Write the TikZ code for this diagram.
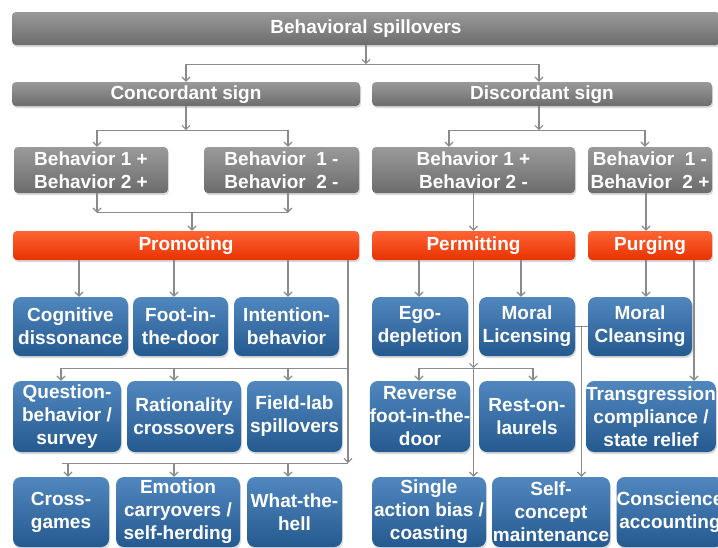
\documentclass[tikz,border=0pt]{standalone}
\usepackage{fontspec}
\setmainfont{Liberation Sans}
\usetikzlibrary{arrows.meta,shadows,calc}

\definecolor{greytop}{HTML}{9A9A9A}
\definecolor{greybot}{HTML}{6C6C6C}
\definecolor{redtop}{HTML}{FF6434}
\definecolor{redbot}{HTML}{E83200}
\definecolor{bluetop}{HTML}{5087BE}
\definecolor{bluebot}{HTML}{255A90}
\definecolor{linegrey}{HTML}{8A8A8A}

\begin{document}
\begin{tikzpicture}[x=1pt,y=-1pt,
    font=\fontsize{19}{23}\selectfont\bfseries,
    box/.style={text=white,align=center,inner xsep=0pt,inner ysep=0pt,
      drop shadow={opacity=0.3,shadow xshift=1pt,shadow yshift=-2pt}},
    oneline/.style={text height=14pt,text depth=4pt},
    greybox/.style={box,rounded corners=4pt,top color=greytop,bottom color=greybot},
    redbar/.style={box,oneline,rounded corners=4pt,top color=redtop,bottom color=redbot,minimum height=29pt},
    bluebox/.style={box,rounded corners=8pt,top color=bluetop,bottom color=bluebot},
    link/.style={draw=linegrey,line width=1.2pt},
    arr/.style={link,-{Straight Barb[length=4pt,width=8pt]}}]

        % Picture frame
        \useasboundingbox (0,0) rectangle (718,547);
        \clip (0,0) rectangle (718,547);

        % Top levels
        \node[greybox,oneline,minimum width=708pt,minimum height=33pt] (top) at (366,28.5) {Behavioral spillovers};
        \node[greybox,oneline,minimum width=348pt,minimum height=24pt] (conc) at (186,94) {Concordant sign};
        \node[greybox,oneline,minimum width=340pt,minimum height=24pt] (disc) at (542,94) {Discordant sign};

        % Behavior pairs
        \foreach \nm/\cx/\w/\txt in {b1/91/154/{Behavior 1 +\\Behavior 2 +},
                                    b2/281.5/155/{Behavior~~1 -\\Behavior~~2 -},
                                    b3/473.5/203/{Behavior 1 +\\Behavior 2 -},
                                    b4/650/124/{Behavior~~1 -\\Behavior~~2 +}} {
          \node[greybox,minimum width=\w pt,minimum height=46pt] (\nm) at (\cx,170) {\txt};
        }

        % Mechanisms
        \node[redbar,minimum width=346pt] (prom) at (186,245.5) {Promoting};
        \node[redbar,minimum width=203pt] (perm) at (473.5,245.5) {Permitting};
        \node[redbar,minimum width=124pt] (purg) at (650,245.5) {Purging};

        % First row of effects
        \foreach \nm/\cx/\w/\txt in {cog/70.5/115/{Cognitive\\dissonance}, foot/180.5/95/{Foot-in-\\the-door},
                                    intn/286.5/105/{Intention-\\behavior}, ego/420/96/{Ego-\\depletion},
                                    lic/527/96/{Moral\\Licensing}, cln/640/104/{Moral\\Cleansing}} {
          \node[bluebox,minimum width=\w pt,minimum height=59pt] (\nm) at (\cx,326.5) {\txt};
        }

        % Second row of effects
        \foreach \nm/\cx/\w/\txt in {ques/67/108/{Question-\\behavior /\\survey}, rat/184/114/{Rationality\\crossovers},
                                    fld/294.5/95/{Field-lab\\spillovers}, rev/420/96/{Reverse\\foot-in-the-\\door},
                                    rest/527/96/{Rest-on-\\laurels}, trans/651/126/{Transgression\\compliance /\\state relief}} {
          \node[bluebox,minimum width=\w pt,minimum height=71pt] (\nm) at (\cx,416.5) {\txt};
        }

        % Third row of effects
        \foreach \nm/\cx/\w/\txt in {cross/61/96/{Cross-\\games}, emo/178/124/{Emotion\\carryovers /\\self-herding},
                                    what/294.5/95/{What-the-\\hell}, sing/429/114/{Single\\action bias /\\coasting},
                                    self/551/118/{Self-\\concept\\maintenance}, consc/670/106/{Conscience\\accounting}} {
          \node[bluebox,minimum width=\w pt,minimum height=70pt] (\nm) at (\cx,512) {\txt};
        }

        % Top bar to signs
        \coordinate (t1) at ($(top.south)+(0,19)$);
        \draw[arr] (top.south) -- (t1);
        \draw[arr] (t1) -| (conc.north);
        \draw[arr] (t1) -| ([xshift=-3pt]disc.north);

        % Signs to behavior pairs
        \coordinate (c1) at ($(conc.south)+(0,24)$);
        \draw[arr] (conc.south) -- (c1);
        \draw[arr] (c1) -| ([xshift=6pt]b1.north);
        \draw[arr] (c1) -| ([xshift=6.5pt]b2.north);
        \coordinate (d1) at ($([xshift=-3pt]disc.south)+(0,24)$);
        \draw[arr] ([xshift=-3pt]disc.south) -- (d1);
        \draw[arr] (d1) -| ([xshift=-24.5pt]b3.north);
        \draw[arr] (d1) -| ([xshift=-5pt]b4.north);

        % Behavior pairs to mechanisms
        \coordinate (m1) at ($(prom.north)+(6,-18)$);
        \draw[arr] ([xshift=6pt]b1.south) -- ([xshift=6pt]b1.south |- m1);
        \draw[arr] ([xshift=6.5pt]b2.south) -- ([xshift=6.5pt]b2.south |- m1);
        \draw[link] ([xshift=6pt]b1.south |- m1) -- ([xshift=6.5pt]b2.south |- m1);
        \draw[arr] (m1) -- ([xshift=6pt]prom.north);
        \draw[arr] (b3.south) -- (perm.north);
        \draw[arr] ([xshift=-4pt]b4.south) -- ([xshift=-4pt]purg.north);

        % Mechanisms to first row
        \foreach \b/\s in {cog/8.5, foot/-6.5, intn/1.5} {
          \draw[arr] ([xshift=\s pt]\b.north |- prom.south) -- ([xshift=\s pt]\b.north);
        }
        \foreach \b/\s in {ego/-1, lic/-6} {
          \draw[arr] ([xshift=\s pt]\b.north |- perm.south) -- ([xshift=\s pt]\b.north);
        }
        \draw[arr] ([xshift=6pt]cln.north |- purg.south) -- ([xshift=6pt]cln.north);

        % Promoting down to second and third rows
        \coordinate (p1) at ([xshift=162pt]prom.south);
        \coordinate (p2) at ($(p1)+(0,108)$);
        \coordinate (p3) at ($(p1)+(0,203)$);
        \draw[arr] (p1) -- (p3);
        \draw[link] (p2) -- ([xshift=-6pt]ques.north |- p2);
        \foreach \b/\s in {ques/-6, rat/-10, fld/-6.5} {
          \draw[arr] ([xshift=\s pt]\b.north |- p2) -- ([xshift=\s pt]\b.north);
        }
        \draw[link] (p3) -- ([xshift=1pt]cross.north |- p3);
        \foreach \b/\s in {cross/7, emo/-4, what/-6.5} {
          \draw[arr] ([xshift=\s pt]\b.north |- p3) -- ([xshift=\s pt]\b.north);
        }

        % Permitting down to second and third rows
        \coordinate (q2) at (perm.south |- p2);
        \draw[arr] (perm.south) -- (q2);
        \draw[link] ([xshift=-1pt]rev.north |- q2) -- ([xshift=6pt]rest.north |- q2);
        \foreach \b/\s in {rev/-1, rest/6} {
          \draw[arr] ([xshift=\s pt]\b.north |- q2) -- ([xshift=\s pt]\b.north);
        }
        \draw[arr] (q2) -- (perm.south |- sing.north);

        % Purging to transgression
        \draw[arr] ([xshift=43pt]trans.north |- purg.south) -- ([xshift=43pt]trans.north);

        % Licensing to self-concept
        \draw[link] (lic.east) -- (cln.west);
        \coordinate (l1) at ($(lic.east)!0.5!(cln.west)$);
        \draw[arr] (l1) -- (l1 |- self.north);
      \end{tikzpicture}
\end{document}
